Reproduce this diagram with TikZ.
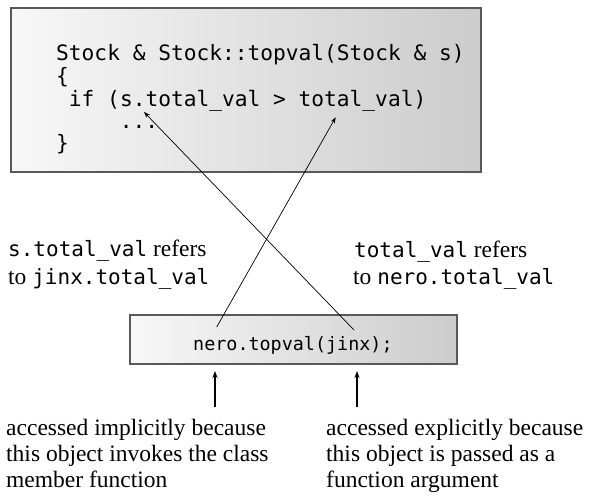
\documentclass[tikz,border=0pt]{standalone}
\usepackage{fontspec}
\setmainfont{Liberation Serif}
\newfontfamily\codefont{DejaVu Sans Mono}
\newcommand\codeword[1]{{\codefont\fontsize{21}{24}\selectfont #1}}
\usetikzlibrary{arrows.meta}
\begin{document}
\begin{tikzpicture}[x=1pt,y=-1pt,
  codebox/.style={draw=black!65, line width=2pt, left color=black!3, right color=black!20, inner sep=0pt, anchor=north west},
  codeline/.style={font=\codefont\fontsize{21.2}{24}\selectfont, inner sep=0pt, anchor=base west},
  callline/.style={font=\codefont\fontsize{18.4}{22}\selectfont, inner sep=0pt, anchor=base west},
  lbl/.style={font=\fontsize{23.5}{26}\selectfont, inner sep=0pt, anchor=base west},
  ptr/.style={-{Stealth[length=6pt,width=4.5pt]}, line width=0.7pt},
  up/.style={-{Stealth[length=7pt,width=5pt]}, line width=1.1pt}]
\useasboundingbox (0,0) rectangle (589,499);
% top code box
\node[codebox, minimum width=469.7pt, minimum height=164.3pt] (topbox) at (10.3,6.7) {};
\node[codeline] (c1) at (56,60) {Stock \& Stock::topval(Stock \& s)};
\node[codeline] (c2) at (56,83) {\{};
\node[codeline] (c3) at (68.75,106) {if (s.total\_val > total\_val)};
\node[codeline] (c4) at (119.75,128) {...};
\node[codeline] (c5) at (56,150) {\}};
% labels
\node[lbl] (l1) at (8,256) {\codeword{s.total\_val} refers};
\node[lbl] (l2) at (8,284) {to \codeword{jinx.total\_val}};
\node[lbl] (r1) at (354,257) {\codeword{total\_val} refers};
\node[lbl] (r2) at (353,284) {to \codeword{nero.total\_val}};
% bottom call box
\node[codebox, minimum width=327.3pt, minimum height=49pt] (botbox) at (128.7,314) {};
\node[callline] (call) at (193,350) {nero.topval(jinx);};
% pointers
\coordinate (tA) at (354,330); \coordinate (hA) at (144,112);
\coordinate (tB) at (216.7,327); \coordinate (hB) at (335.7,117.3);
\draw[ptr] (tA) -- (hA);
\draw[ptr] (tB) -- (hB);
\coordinate (u1s) at (215,407); \coordinate (u1e) at (215,371);
\coordinate (u2s) at (357,407); \coordinate (u2e) at (357,371);
\draw[up] (u1s) -- (u1e);
\draw[up] (u2s) -- (u2e);
% bottom notes
\node[lbl] (a1) at (6,435) {accessed implicitly because};
\node[lbl] (a2) at (6,461) {this object invokes the class};
\node[lbl] (a3) at (6,487) {member function};
\node[lbl] (b1) at (326,435) {accessed explicitly because};
\node[lbl] (b2) at (326,461) {this object is passed as a};
\node[lbl] (b3) at (326,487) {function argument};
\end{tikzpicture}
\end{document}
